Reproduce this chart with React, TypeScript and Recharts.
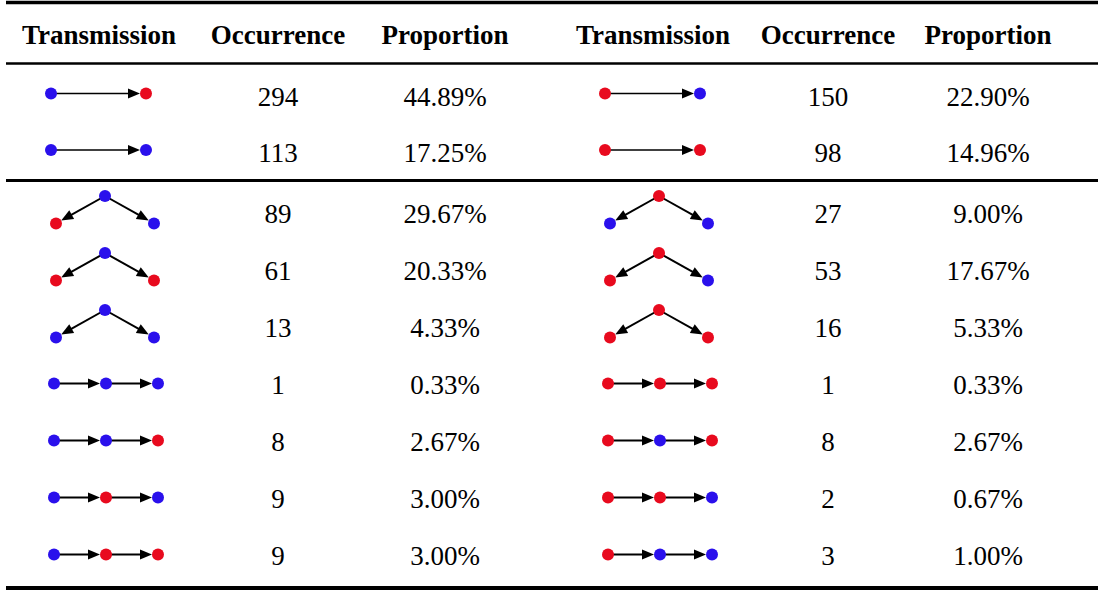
import React from "react"
import { ScatterChart, Scatter, XAxis, YAxis, ReferenceLine } from "recharts"

// table content
const HEADERS = ["Transmission", "Occurrence", "Proportion", "Transmission", "Occurrence", "Proportion"]

// graph kind per row: pair = a->b, tree = top -> left & right, chain = a->b->c
const ROW_KINDS = ["pair", "pair", "tree", "tree", "tree", "chain", "chain", "chain", "chain"]

// B = blue node, R = red node (tree order: top, left, right)
const LEFT_PATTERNS = ["BR", "BB", "BRB", "BRR", "BBB", "BBB", "BBR", "BRB", "BRR"]
const LEFT_OCCURRENCE = [294, 113, 89, 61, 13, 1, 8, 9, 9]
const LEFT_PROPORTION = ["44.89%", "17.25%", "29.67%", "20.33%", "4.33%", "0.33%", "2.67%", "3.00%", "3.00%"]

const RIGHT_PATTERNS = ["RB", "RR", "RBB", "RRB", "RRR", "RRR", "RBR", "RRB", "RBB"]
const RIGHT_OCCURRENCE = [150, 98, 27, 53, 16, 1, 8, 2, 3]
const RIGHT_PROPORTION = ["22.90%", "14.96%", "9.00%", "17.67%", "5.33%", "0.33%", "2.67%", "0.67%", "1.00%"]

// layout
const W = 1099
const H = 590
const COL_X = [99, 278, 445, 653, 828, 988]
const HEADER_Y = 35
const ROW_Y = [96.5, 153, 214, 271, 328, 385, 442, 499, 556]
const RULES = [
  { y: 2.5, w: 3.5 },
  { y: 63.5, w: 2.5 },
  { y: 180.5, w: 3 },
  { y: 588, w: 4 },
]

const BLUE = "#2a10ec"
const RED = "#e80a1e"
const FONT = '"Liberation Serif", "Times New Roman", serif'

const textPoints: { x: number; y: number; label: string; bold: boolean }[] = []
HEADERS.forEach((h, i) => textPoints.push({ x: COL_X[i], y: HEADER_Y, label: h, bold: true }))
ROW_Y.forEach((y, r) => {
  textPoints.push({ x: COL_X[1], y, label: String(LEFT_OCCURRENCE[r]), bold: false })
  textPoints.push({ x: COL_X[2], y, label: LEFT_PROPORTION[r], bold: false })
  textPoints.push({ x: COL_X[4], y, label: String(RIGHT_OCCURRENCE[r]), bold: false })
  textPoints.push({ x: COL_X[5], y, label: RIGHT_PROPORTION[r], bold: false })
})

const graphPoints: { x: number; y: number; kind: string; pattern: string }[] = []
ROW_Y.forEach((y, r) => {
  graphPoints.push({ x: COL_X[0], y, kind: ROW_KINDS[r], pattern: LEFT_PATTERNS[r] })
  graphPoints.push({ x: COL_X[3], y, kind: ROW_KINDS[r], pattern: RIGHT_PATTERNS[r] })
})

const TextShape = (props: any) => {
  const { cx, cy, payload } = props
  return (
    <text
      x={cx}
      y={cy + 9}
      textAnchor="middle"
      fontFamily={FONT}
      fontSize={27}
      fontWeight={payload.bold ? 700 : 400}
      fill="#000"
    >
      {payload.label}
    </text>
  )
}

const R = 6

function Arrow({ x1, y1, x2, y2, sw }: { x1: number; y1: number; x2: number; y2: number; sw: number }) {
  const dx = x2 - x1
  const dy = y2 - y1
  const len = Math.sqrt(dx * dx + dy * dy)
  const ux = dx / len
  const uy = dy / len
  // tip touches the target node
  const tx = x2 - ux * R
  const ty = y2 - uy * R
  const hl = 12
  const hw = 5
  const bx = tx - ux * hl
  const by = ty - uy * hl
  const pts = `${tx},${ty} ${bx - uy * hw},${by + ux * hw} ${bx + uy * hw},${by - ux * hw}`
  return (
    <g>
      <line x1={x1} y1={y1} x2={bx + ux} y2={by + uy} stroke="#000" strokeWidth={sw} />
      <polygon points={pts} fill="#000" />
    </g>
  )
}

const GraphShape = (props: any) => {
  const { cx, cy, payload } = props
  const col = (c: string) => (c === "B" ? BLUE : RED)
  const p = payload.pattern as string
  let nodes: { x: number; y: number; c: string }[] = []
  let edges: [number, number][] = []
  let sw = 1.8
  if (payload.kind === "pair") {
    const gx = cx - 0.5
    const gy = cy - 3
    nodes = [
      { x: gx - 47.5, y: gy, c: p[0] },
      { x: gx + 47.5, y: gy, c: p[1] },
    ]
    edges = [[0, 1]]
    sw = 1.5
  } else if (payload.kind === "tree") {
    const gx = cx + 6
    nodes = [
      { x: gx, y: cy - 18, c: p[0] },
      { x: gx - 49, y: cy + 9.5, c: p[1] },
      { x: gx + 49, y: cy + 9.5, c: p[2] },
    ]
    edges = [
      [0, 1],
      [0, 2],
    ]
    sw = 2
  } else {
    const gx = cx + 7
    const gy = cy - 1.5
    nodes = [
      { x: gx - 52, y: gy, c: p[0] },
      { x: gx, y: gy, c: p[1] },
      { x: gx + 52, y: gy, c: p[2] },
    ]
    edges = [
      [0, 1],
      [1, 2],
    ]
  }
  return (
    <g>
      {edges.map(([a, b], i) => (
        <Arrow key={`e-${i}`} x1={nodes[a].x} y1={nodes[a].y} x2={nodes[b].x} y2={nodes[b].y} sw={sw} />
      ))}
      {nodes.map((n, i) => (
        <circle key={`n-${i}`} cx={n.x} cy={n.y} r={R} fill={col(n.c)} />
      ))}
    </g>
  )
}

export default function App() {
  return (
    <div style={{ position: "absolute", left: 0, top: 0, width: W, height: H, background: "#fff" }}>
      <ScatterChart width={W} height={H} margin={{ top: 0, right: 0, bottom: 0, left: 0 }}>
        <XAxis type="number" dataKey="x" domain={[0, W]} hide />
        <YAxis type="number" dataKey="y" domain={[0, H]} reversed hide />
        {RULES.map((r, i) => (
          <ReferenceLine
            key={`rule-${i}`}
            segment={[
              { x: 6, y: r.y },
              { x: 1098, y: r.y },
            ]}
            stroke="#000"
            strokeWidth={r.w}
          />
        ))}
        <Scatter data={graphPoints} shape={GraphShape} isAnimationActive={false} />
        <Scatter data={textPoints} shape={TextShape} isAnimationActive={false} />
      </ScatterChart>
    </div>
  )
}
